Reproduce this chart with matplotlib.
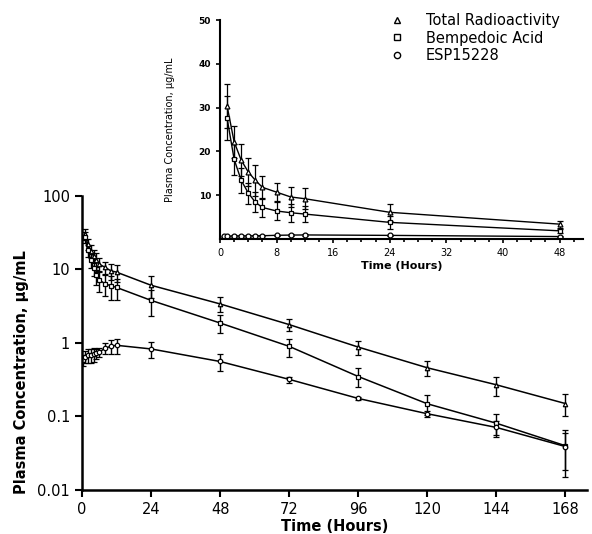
import numpy as np
import matplotlib.pyplot as plt
from matplotlib.lines import Line2D

plt.rcParams['font.family'] = ['DejaVu Sans']

# time points (hours)
t_main = [1, 2, 3, 4, 5, 6, 8, 10, 12, 24, 48, 72, 96, 120, 144, 168]
t_esp = [0.5, 1, 2, 3, 4, 5, 6, 8, 10, 12, 24, 48, 72, 96, 120, 144, 168]

# mean and SD, ug/mL
total_rad = [30.4, 22.2, 18.0, 15.3, 13.4, 11.8, 10.7, 9.6, 9.2, 6.1, 3.4, 1.78, 0.88, 0.46, 0.27, 0.15]
total_sd = [5.0, 3.6, 3.7, 3.2, 3.5, 2.7, 2.1, 2.3, 2.4, 2.0, 0.8, 0.33, 0.2, 0.1, 0.08, 0.05]
bemp = [27.6, 18.2, 13.4, 10.5, 8.4, 7.2, 6.4, 6.0, 5.7, 3.8, 1.87, 0.9, 0.35, 0.149, 0.081, 0.04]
bemp_sd = [5.0, 3.6, 2.9, 2.4, 2.3, 2.2, 2.1, 2.1, 1.8, 1.5, 0.5, 0.25, 0.1, 0.045, 0.028, 0.025]
esp = [0.58, 0.65, 0.68, 0.68, 0.70, 0.72, 0.75, 0.85, 0.90, 0.93, 0.83, 0.56, 0.32, 0.176, 0.109, 0.071, 0.039]
esp_sd = [0.1, 0.12, 0.15, 0.15, 0.15, 0.12, 0.1, 0.15, 0.2, 0.22, 0.2, 0.15, 0.03, 0.01, 0.01, 0.015, 0.02]

main_xticks = [0, 24, 48, 72, 96, 120, 144, 168]
main_yticks = [0.01, 0.1, 1, 10, 100]
main_ylabels = ['0.01', '0.1', '1', '10', '100']
inset_xticks = [0, 8, 16, 24, 32, 40, 48]
inset_yticks = [10, 20, 30, 40, 50]

series = [
    (t_main, total_rad, total_sd, '^', 'Total Radioactivity'),
    (t_main, bemp, bemp_sd, 's', 'Bempedoic Acid'),
    (t_esp, esp, esp_sd, 'o', 'ESP15228'),
]

fig = plt.figure(figsize=(5.92, 5.34), dpi=100)

# main log plot
ax = fig.add_axes([0.1385, 0.0824, 0.853, 0.5506])
for t, y, sd, m, lab in series:
    ax.errorbar(t, y, yerr=sd, color='black', lw=1.1, elinewidth=1.0,
                capsize=2.2, capthick=1.0, marker=m, ms=3.2,
                mfc='white', mec='black', mew=0.9)
ax.set_yscale('log')
ax.set_ylim(0.01, 100)
ax.set_xlim(0, 175.5)
ax.set_yticks(main_yticks)
ax.set_yticklabels(main_ylabels)
ax.minorticks_off()
ax.set_xticks(main_xticks)
ax.tick_params(labelsize=10.5, width=1.5, length=5, direction='out')
for s in ['top', 'right']:
    ax.spines[s].set_visible(False)
for s in ['left', 'bottom']:
    ax.spines[s].set_linewidth(1.8)
ax.set_xlabel('Time (Hours)', fontsize=10.5, fontweight='bold')
ax.set_ylabel('Plasma Concentration, µg/mL', fontsize=10.5, fontweight='bold')
ax.xaxis.set_label_coords(0.5, -0.098)
ax.yaxis.set_label_coords(-0.105, 0.40)

# inset linear plot
ins = fig.add_axes([0.3716, 0.5524, 0.613, 0.4101])
ins.patch.set_alpha(0)
for t, y, sd, m, lab in series:
    tt = [v for v in t if v <= 48]
    n = len(tt)
    ins.errorbar(tt, y[:n], yerr=sd[:n], color='black', lw=1.0, elinewidth=0.9,
                 capsize=2.0, capthick=0.9, marker=m, ms=3.5,
                 mfc='white', mec='black', mew=0.9)
ins.set_xlim(0, 51.3)
ins.set_ylim(0, 50)
ins.set_xticks(inset_xticks)
ins.set_xticks(np.arange(2, 51, 2), minor=True)
ins.set_yticks(inset_yticks)
ins.tick_params(axis='x', labelsize=7, width=1.2, length=3, direction='out')
ins.tick_params(axis='x', which='minor', width=1.2, length=2, direction='out')
ins.tick_params(axis='y', labelsize=6.5, width=1.2, length=3, direction='out')
for lbl in ins.get_yticklabels():
    lbl.set_fontweight('bold')
for s in ['top', 'right']:
    ins.spines[s].set_visible(False)
for s in ['left', 'bottom']:
    ins.spines[s].set_linewidth(1.5)
ins.set_xlabel('Time (Hours)', fontsize=8, fontweight='bold')
ins.set_ylabel('Plasma Concentration, µg/mL', fontsize=7)
ins.xaxis.set_label_coords(0.5, -0.1)
ins.yaxis.set_label_coords(-0.125, 0.5)

handles = [Line2D([], [], ls='none', marker=m, ms=4.5, mfc='white', mec='black', mew=1.0)
           for _, _, _, m, _ in series]
labels = [lab for _, _, _, _, lab in series]
fig.legend(handles, labels, loc='upper left', bbox_to_anchor=(0.658, 0.975),
           frameon=False, fontsize=10.5, handlelength=1.0, handletextpad=1.5,
           labelspacing=0.15, borderpad=0, borderaxespad=0)

fig.savefig('out.png', dpi=100)
